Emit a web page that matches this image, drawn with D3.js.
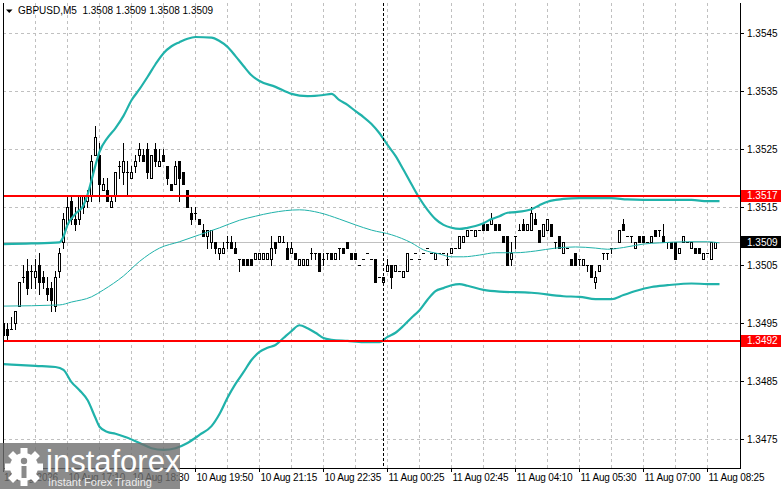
<!DOCTYPE html>
<html>
<head>
<meta charset="utf-8">
<script src="https://cdn.jsdelivr.net/npm/d3@7"></script>
<style>
body { margin: 0; background: #fff; }
svg { display: block; }
text { font-family: "Liberation Sans", Arial, sans-serif; }
</style>
</head>
<body>
<script>

// DATA

const symbolTitle = 'GBPUSD,M5  1.3508 1.3509 1.3508 1.3509';

// one row per M5 bar: open, high, low, close
const ohlc = [
    [1.3495,1.3496,1.3492,1.3493],[1.3494,1.3495,1.3492,1.3493],[1.3494,1.3496,1.3494,1.3494],[1.3495,1.3497,1.3494,1.3497],
    [1.3498,1.3502,1.3498,1.3502],[1.3503,1.3505,1.3502,1.3503],[1.3504,1.3506,1.3500,1.3501],[1.3504,1.3505,1.3501,1.3504],
    [1.3503,1.3506,1.3501,1.3504],[1.3505,1.3507,1.3500,1.3502],[1.3503,1.3504,1.3501,1.3502],[1.3501,1.3503,1.3499,1.3500],
    [1.3501,1.3502,1.3497,1.3499],[1.3498,1.3504,1.3497,1.3503],[1.3504,1.3508,1.3503,1.3507],[1.3509,1.3514,1.3508,1.3513],
    [1.3512,1.3517,1.3512,1.3515],[1.3516,1.3517,1.3512,1.3513],[1.3513,1.3515,1.3511,1.3512],[1.3513,1.3517,1.3512,1.3517],
    [1.3515,1.3517,1.3514,1.3517],[1.3516,1.3518,1.3515,1.3517],[1.3517,1.3524,1.3516,1.3523],[1.3524,1.3529,1.3524,1.3527],
    [1.3524,1.3526,1.3516,1.3519],[1.3518,1.3520,1.3518,1.3519],[1.3518,1.3520,1.3516,1.3516],[1.3515,1.3517,1.3515,1.3516],
    [1.3517,1.3521,1.3516,1.3521],[1.3522,1.3523,1.3520,1.3522],[1.3521,1.3526,1.3519,1.3523],[1.3521,1.3523,1.3517,1.3521],
    [1.3520,1.3522,1.3520,1.3521],[1.3522,1.3524,1.3521,1.3523],[1.3524,1.3526,1.3523,1.3525],[1.3524,1.3525,1.3523,1.3523],
    [1.3525,1.3526,1.3520,1.3521],[1.3520,1.3524,1.3520,1.3524],[1.3525,1.3526,1.3522,1.3523],[1.3522,1.3525,1.3522,1.3523],
    [1.3524,1.3525,1.3523,1.3523],[1.3522,1.3522,1.3519,1.3520],[1.3519,1.3519,1.3518,1.3518],[1.3519,1.3523,1.3519,1.3522],
    [1.3523,1.3523,1.3516,1.3520],[1.3521,1.3521,1.3519,1.3519],[1.3518,1.3518,1.3515,1.3515],[1.3514,1.3515,1.3512,1.3513],
    [1.3514,1.3515,1.3513,1.3514],[1.3513,1.3513,1.3512,1.3512],[1.3511,1.3512,1.3510,1.3510],[1.3510,1.3511,1.3508,1.3511],
    [1.3509,1.3511,1.3508,1.3511],[1.3509,1.3509,1.3507,1.3508],[1.3507,1.3508,1.3506,1.3508],[1.3507,1.3509,1.3507,1.3508],
    [1.3509,1.3510,1.3508,1.3509],[1.3509,1.3510,1.3508,1.3508],[1.3508,1.3509,1.3507,1.3507],[1.3506,1.3506,1.3504,1.3506],
    [1.3506,1.3506,1.3505,1.3505],[1.3506,1.3506,1.3505,1.3505],[1.3506,1.3506,1.3505,1.3505],[1.3506,1.3507,1.3506,1.3507],
    [1.3506,1.3507,1.3506,1.3507],[1.3506,1.3507,1.3506,1.3507],[1.3506,1.3507,1.3506,1.3507],[1.3506,1.3510,1.3505,1.3508],
    [1.3509,1.3509,1.3507,1.3508],[1.3509,1.3510,1.3509,1.3510],[1.3509,1.3510,1.3509,1.3509],[1.3508,1.3509,1.3506,1.3506],
    [1.3507,1.3509,1.3507,1.3508],[1.3507,1.3507,1.3506,1.3506],[1.3505,1.3506,1.3505,1.3506],[1.3505,1.3506,1.3505,1.3506],
    [1.3505,1.3506,1.3505,1.3506],[1.3507,1.3508,1.3506,1.3507],[1.3507,1.3507,1.3506,1.3507],[1.3507,1.3507,1.3504,1.3504],
    [1.3506,1.3507,1.3505,1.3506],[1.3507,1.3507,1.3506,1.3507],[1.3507,1.3507,1.3506,1.3506],[1.3506,1.3507,1.3506,1.3507],
    [1.3508,1.3508,1.3506,1.3508],[1.3508,1.3508,1.3507,1.3507],[1.3509,1.3509,1.3508,1.3508],[1.3507,1.3507,1.3506,1.3506],
    [1.3507,1.3507,1.3506,1.3506],[1.3505,1.3505,1.3505,1.3505],[1.3506,1.3506,1.3506,1.3506],[1.3507,1.3507,1.3507,1.3507],
    [1.3506,1.3506,1.3506,1.3506],[1.3506,1.3506,1.3502,1.3502],[1.3503,1.3503,1.3503,1.3503],[1.3502,1.3503,1.3502,1.3503],
    [1.3504,1.3506,1.3504,1.3505],[1.3505,1.3505,1.3501,1.3503],[1.3504,1.3505,1.3504,1.3505],[1.3504,1.3504,1.3504,1.3504],
    [1.3503,1.3504,1.3503,1.3504],[1.3504,1.3507,1.3504,1.3507],[1.3506,1.3506,1.3506,1.3506],[1.3507,1.3507,1.3507,1.3507],
    [1.3506,1.3506,1.3506,1.3506],[1.3507,1.3507,1.3507,1.3507],[1.3508,1.3508,1.3508,1.3508],[1.3507,1.3507,1.3507,1.3507],
    [1.3506,1.3507,1.3506,1.3507],[1.3507,1.3507,1.3507,1.3507],[1.3507,1.3507,1.3507,1.3507],[1.3506,1.3507,1.3505,1.3506],
    [1.3507,1.3508,1.3507,1.3508],[1.3508,1.3508,1.3508,1.3508],[1.3508,1.3510,1.3508,1.3510],[1.3509,1.3510,1.3509,1.3510],
    [1.3510,1.3511,1.3510,1.3511],[1.3511,1.3511,1.3511,1.3511],[1.3510,1.3511,1.3510,1.3511],[1.3511,1.3511,1.3511,1.3511],
    [1.3512,1.3512,1.3511,1.3511],[1.3512,1.3512,1.3511,1.3511],[1.3512,1.3514,1.3512,1.3513],[1.3512,1.3512,1.3511,1.3511],
    [1.3512,1.3512,1.3511,1.3511],[1.3510,1.3510,1.3509,1.3509],[1.3510,1.3510,1.3505,1.3505],[1.3506,1.3509,1.3505,1.3507],
    [1.3510,1.3510,1.3508,1.3510],[1.3511,1.3512,1.3511,1.3511],[1.3512,1.3513,1.3511,1.3511],[1.3511,1.3512,1.3511,1.3512],
    [1.3511,1.3515,1.3511,1.3514],[1.3513,1.3514,1.3512,1.3512],[1.3511,1.3511,1.3509,1.3509],[1.3510,1.3512,1.3510,1.3512],
    [1.3511,1.3513,1.3511,1.3513],[1.3512,1.3512,1.3510,1.3510],[1.3509,1.3509,1.3508,1.3509],[1.3510,1.3510,1.3508,1.3508],
    [1.3507,1.3509,1.3507,1.3509],[1.3508,1.3508,1.3508,1.3508],[1.3506,1.3506,1.3505,1.3505],[1.3507,1.3507,1.3505,1.3505],
    [1.3506,1.3506,1.3505,1.3506],[1.3505,1.3506,1.3505,1.3506],[1.3505,1.3505,1.3504,1.3505],[1.3505,1.3505,1.3503,1.3503],
    [1.3502,1.3504,1.3501,1.3503],[1.3504,1.3505,1.3504,1.3505],[1.3507,1.3507,1.3506,1.3507],[1.3507,1.3507,1.3506,1.3507],
    [1.3508,1.3508,1.3507,1.3508],[1.3508,1.3508,1.3508,1.3508],[1.3509,1.3511,1.3509,1.3511],[1.3512,1.3513,1.3511,1.3511],
    [1.3510,1.3510,1.3510,1.3510],[1.3510,1.3510,1.3509,1.3510],[1.3508,1.3509,1.3508,1.3509],[1.3510,1.3510,1.3509,1.3509],
    [1.3510,1.3510,1.3509,1.3509],[1.3509,1.3509,1.3509,1.3509],[1.3509,1.3510,1.3509,1.3510],[1.3511,1.3511,1.3510,1.3510],
    [1.3511,1.3511,1.3510,1.3511],[1.3510,1.3512,1.3509,1.3509],[1.3509,1.3509,1.3508,1.3509],[1.3509,1.3509,1.3508,1.3508],
    [1.3509,1.3509,1.3506,1.3506],[1.3507,1.3508,1.3507,1.3508],[1.3509,1.3510,1.3509,1.3510],[1.3509,1.3509,1.3509,1.3509],
    [1.3508,1.3509,1.3508,1.3509],[1.3508,1.3508,1.3507,1.3507],[1.3508,1.3508,1.3507,1.3507],[1.3506,1.3507,1.3506,1.3507],
    [1.3507,1.3507,1.3507,1.3507],[1.3506,1.3509,1.3506,1.3509],[1.3508,1.3509,1.3508,1.3509]
];

// Bollinger bands, [bar index, price]
const upperBand = [[0,1.35087],[7,1.35088],[14,1.35090],[15,1.35100],[16,1.35120],[18,1.35139],[20,1.35154],[21,1.35172],
    [22,1.35197],[23,1.35223],[24,1.35246],[26,1.35270],[28,1.35287],[30,1.35308],[32,1.35335],[34,1.35354],[36,1.35375],
    [38,1.35397],[40,1.35416],[42,1.35428],[44,1.35435],[46,1.35441],[48,1.35444],[52,1.35443],[54,1.35437],[56,1.35427],
    [58,1.35411],[60,1.35394],[62,1.35378],[64,1.35368],[68,1.35358],[72,1.35346],[76,1.35342],[80,1.35344],[82,1.35346],
    [84,1.35335],[86,1.35327],[88,1.35316],[90,1.35306],[92,1.35294],[94,1.35278],[96,1.35258],[98,1.35239],[100,1.35215],
    [102,1.35190],[104,1.35166],[106,1.35146],[108,1.35130],[110,1.35120],[112,1.35115],[114,1.35113],[116,1.35115],
    [118,1.35118],[120,1.35123],[122,1.35130],[124,1.35135],[126,1.35141],[128,1.35142],[132,1.35147],[134,1.35154],
    [136,1.35160],[138,1.35163],[140,1.35165],[144,1.35166],[152,1.35166],[156,1.35164],[164,1.35163],[172,1.35163],
    [176,1.35161],[179,1.35161]];

const middleBand = [[0,1.34980],[14,1.34982],[17,1.34987],[22,1.34996],[25,1.35008],[30,1.35032],[34,1.35057],[39,1.35080],
    [44,1.35091],[49,1.35103],[54,1.35115],[59,1.35128],[63,1.35135],[67,1.35141],[74,1.35146],[79,1.35141],[84,1.35130],
    [88,1.35120],[92,1.35111],[97,1.35103],[102,1.35089],[105,1.35077],[109,1.35070],[112,1.35065],[115,1.35065],
    [119,1.35068],[123,1.35072],[128,1.35072],[133,1.35075],[138,1.35080],[143,1.35082],[148,1.35080],[151,1.35078],
    [155,1.35081],[160,1.35087],[164,1.35089],[171,1.35091],[176,1.35091],[179,1.35089]];

const lowerBand = [[0,1.34880],[8,1.34877],[13,1.34875],[15,1.34870],[17,1.34849],[19,1.34835],[21,1.34818],[23,1.34787],
    [24,1.34772],[26,1.34763],[28,1.34760],[31,1.34753],[34,1.34744],[37,1.34735],[40,1.34732],[43,1.34735],[46,1.34744],
    [49,1.34758],[52,1.34773],[54,1.34794],[56,1.34822],[58,1.34846],[60,1.34866],[62,1.34887],[64,1.34901],[66,1.34908],
    [68,1.34913],[70,1.34925],[72,1.34937],[74,1.34947],[76,1.34942],[78,1.34934],[80,1.34925],[82,1.34922],[86,1.34920],
    [90,1.34918],[94,1.34918],[96,1.34927],[98,1.34934],[100,1.34946],[102,1.34960],[104,1.34973],[106,1.34991],
    [108,1.35006],[110,1.35011],[112,1.35016],[114,1.35018],[116,1.35015],[120,1.35008],[124,1.35005],[132,1.35003],
    [140,1.34997],[144,1.34996],[148,1.34992],[152,1.34992],[155,1.34999],[158,1.35006],[162,1.35013],[166,1.35016],
    [172,1.35019],[176,1.35018],[179,1.35018]];

const priceTicks = [1.3475, 1.3485, 1.3495, 1.3505, 1.3515, 1.3525, 1.3535, 1.3545];
const levelLines = [1.3517, 1.3492];
const lastPrice = 1.3509;

const timeLabelBars = [0, 16, 32, 48, 64, 80, 96, 112, 128, 144, 160, 176];
const timeLabels = ['10 Aug 2026', '10 Aug 17:10', '10 Aug 18:30', '10 Aug 19:50', '10 Aug 21:15', '10 Aug 22:35',
    '11 Aug 00:25', '11 Aug 02:45', '11 Aug 04:10', '11 Aug 05:30', '11 Aug 07:00', '11 Aug 08:25'];
const daySeparatorBar = 95;


// LAYOUT

const chartConfig = {
    w: 781,
    h: 489,
    left: 3,
    right: 740,
    top: 3,
    bottom: 468
};

const teal = '#20b2aa';
const gridColor = '#c0c0c0';

const svg = d3.select('body')
    .append('svg')
    .attr('width', chartConfig.w)
    .attr('height', chartConfig.h)
    .attr('shape-rendering', 'crispEdges');

svg.append('defs').append('clipPath')
    .attr('id', 'plot')
    .append('rect')
    .attr('x', chartConfig.left)
    .attr('y', chartConfig.top)
    .attr('width', chartConfig.right - chartConfig.left)
    .attr('height', chartConfig.bottom - chartConfig.top);


// SCALES

const xScale = d3.scaleLinear()
    .domain([0, ohlc.length - 1])
    .range([3.5, 3.5 + 4 * (ohlc.length - 1)]);

const yScale = d3.scaleLinear()
    .domain([1.3475, 1.3545])
    .range([439.5, 33.5]);

const py = p => Math.round(yScale(p) - 0.5) + 0.5;


// GRID

const plot = svg.append('g').attr('clip-path', 'url(#plot)');

plot.selectAll('.hgrid')
    .data(priceTicks)
    .enter()
    .append('line')
    .attr('x1', chartConfig.left)
    .attr('x2', chartConfig.right)
    .attr('y1', d => py(d))
    .attr('y2', d => py(d))
    .attr('stroke', gridColor)
    .attr('stroke-dasharray', '3,3');

plot.selectAll('.vgrid')
    .data(d3.range(8, ohlc.length, 8))
    .enter()
    .append('line')
    .attr('x1', d => xScale(d))
    .attr('x2', d => xScale(d))
    .attr('y1', chartConfig.top)
    .attr('y2', chartConfig.bottom)
    .attr('stroke', gridColor)
    .attr('stroke-dasharray', '3,3');

// current price line
plot.append('line')
    .attr('x1', chartConfig.left)
    .attr('x2', chartConfig.right)
    .attr('y1', py(lastPrice))
    .attr('y2', py(lastPrice))
    .attr('stroke', gridColor);


// CANDLES

const candle = plot.selectAll('.candle')
    .data(ohlc)
    .enter()
    .append('g');

candle.append('line')
    .attr('x1', (d, i) => xScale(i))
    .attr('x2', (d, i) => xScale(i))
    .attr('y1', d => py(d[1]) - 0.5)
    .attr('y2', d => py(d[2]) + 0.5)
    .attr('stroke', '#000');

candle.each(function(d, i) {
    const g = d3.select(this);
    const cx = xScale(i);
    const yo = py(d[0]);
    const yc = py(d[3]);
    if (Math.abs(yo - yc) < 1) {
        g.append('line')
            .attr('x1', cx - 1.5).attr('x2', cx + 1.5)
            .attr('y1', yc).attr('y2', yc)
            .attr('stroke', '#000');
    } else if (d[3] > d[0]) {
        g.append('rect')
            .attr('x', cx - 1).attr('width', 2)
            .attr('y', yc).attr('height', yo - yc)
            .attr('fill', '#fff').attr('stroke', '#000');
    } else {
        g.append('rect')
            .attr('x', cx - 1.5).attr('width', 3)
            .attr('y', yo - 0.5).attr('height', yc - yo + 1)
            .attr('fill', '#000');
    }
});


// BANDS

const bandLine = d3.line()
    .x(d => xScale(d[0]))
    .y(d => yScale(d[1]))
    .curve(d3.curveMonotoneX);

[[upperBand, 2.2], [lowerBand, 2.2], [middleBand, 1]].forEach(function(b) {
    plot.append('path')
        .datum(b[0])
        .attr('d', bandLine)
        .attr('fill', 'none')
        .attr('stroke', teal)
        .attr('stroke-width', b[1])
        .attr('shape-rendering', 'auto');
});


// LEVELS

plot.selectAll('.level')
    .data(levelLines)
    .enter()
    .append('line')
    .attr('x1', chartConfig.left)
    .attr('x2', chartConfig.right)
    .attr('y1', d => Math.round(yScale(d)))
    .attr('y2', d => Math.round(yScale(d)))
    .attr('stroke', '#ff0000')
    .attr('stroke-width', 2);

plot.append('line')
    .attr('x1', xScale(daySeparatorBar))
    .attr('x2', xScale(daySeparatorBar))
    .attr('y1', chartConfig.top)
    .attr('y2', chartConfig.bottom)
    .attr('stroke', '#000')
    .attr('stroke-dasharray', '3,2');


// AXES FRAME

svg.append('path')
    .attr('d', 'M3.5,3V468.5H740.5V3')
    .attr('fill', 'none')
    .attr('stroke', '#000');

// price axis
svg.selectAll('.ptick')
    .data(priceTicks)
    .enter()
    .append('line')
    .attr('x1', 740).attr('x2', 744)
    .attr('y1', d => py(d)).attr('y2', d => py(d))
    .attr('stroke', '#000');

svg.selectAll('.plabel')
    .data(priceTicks)
    .enter()
    .append('text')
    .attr('x', 747)
    .attr('y', d => yScale(d) + 3.5)
    .attr('font-size', '10px')
    .attr('fill', '#000')
    .text(d => d.toFixed(4));

// price boxes
const boxes = levelLines.map(p => ({ p, c: '#ff0000' })).concat([{ p: lastPrice, c: '#000' }]);

const box = svg.selectAll('.pbox')
    .data(boxes)
    .enter()
    .append('g');

box.append('rect')
    .attr('x', 741)
    .attr('y', d => Math.round(yScale(d.p)) - 6)
    .attr('width', 40)
    .attr('height', 12)
    .attr('fill', d => d.c);

box.append('text')
    .attr('x', 747)
    .attr('y', d => yScale(d.p) + 3.5)
    .attr('font-size', '10px')
    .attr('fill', '#fff')
    .text(d => d.p.toFixed(4));

// time axis
svg.selectAll('.ttick')
    .data(timeLabelBars)
    .enter()
    .append('line')
    .attr('x1', d => xScale(d)).attr('x2', d => xScale(d))
    .attr('y1', 468).attr('y2', 472)
    .attr('stroke', '#000');

svg.selectAll('.tlabel')
    .data(timeLabelBars)
    .enter()
    .append('text')
    .attr('x', (d, i) => i === 0 ? 4 : xScale(d) + 1)
    .attr('y', 481)
    .attr('font-size', '10px')
    .attr('letter-spacing', '-0.2px')
    .attr('fill', '#000')
    .text((d, i) => timeLabels[i]);


// TITLE

svg.append('path')
    .attr('d', 'M6,9.5H12.5L9.25,13Z')
    .attr('fill', '#000')
    .attr('shape-rendering', 'auto');

svg.append('text')
    .attr('x', 18)
    .attr('y', 14)
    .attr('font-size', '10px')
    .attr('fill', '#000')
    .style('white-space', 'pre')
    .text(symbolTitle);


// WATERMARK

const wm = svg.append('g').attr('shape-rendering', 'auto');

wm.append('rect')
    .attr('x', 0).attr('y', 443)
    .attr('width', 180).attr('height', 46)
    .attr('fill', '#6e6e6e')
    .attr('opacity', 0.8);

const gear = wm.append('g').attr('transform', 'translate(24,467)');
gear.selectAll('rect')
    .data(d3.range(8))
    .enter()
    .append('rect')
    .attr('x', -3.5).attr('y', -19)
    .attr('width', 7).attr('height', 8)
    .attr('fill', '#fff')
    .attr('transform', d => 'rotate(' + d * 45 + ')');
gear.append('circle').attr('r', 14).attr('fill', '#fff');
gear.append('circle').attr('cy', -6).attr('r', 3.2).attr('fill', '#8a8a8a');
gear.append('rect').attr('x', -2.5).attr('y', -1).attr('width', 5).attr('height', 12).attr('fill', '#8a8a8a');

wm.append('text')
    .attr('x', 46)
    .attr('y', 472)
    .attr('font-size', '31px')
    .attr('fill', '#fff')
    .text('instaforex');

wm.append('text')
    .attr('x', 48)
    .attr('y', 486)
    .attr('font-size', '11px')
    .attr('fill', '#fff')
    .attr('opacity', 0.85)
    .text('Instant Forex Trading');

</script>
</body>
</html>
